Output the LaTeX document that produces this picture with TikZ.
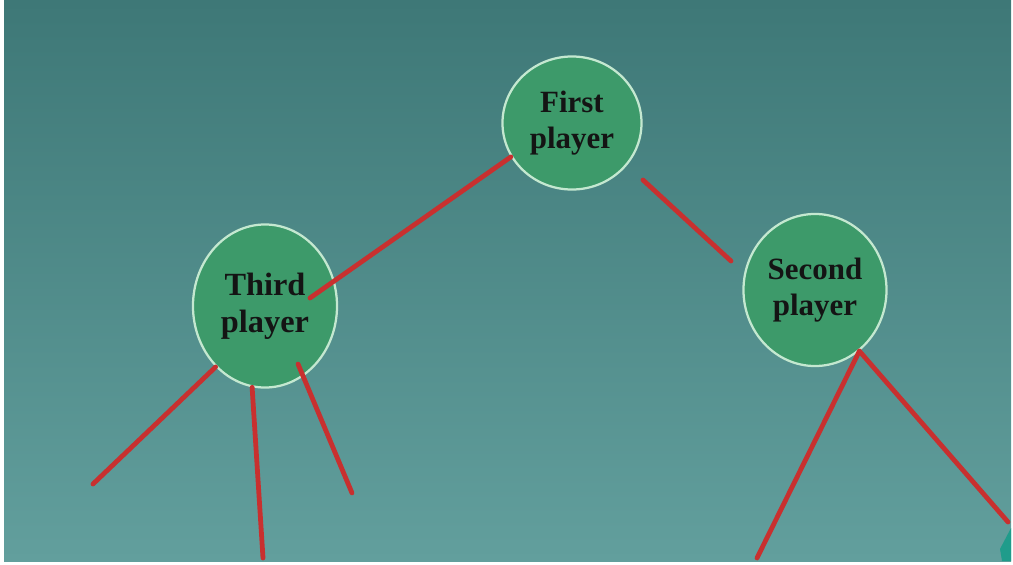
\documentclass[tikz,border=0pt]{standalone}
\usepackage{fontspec}
\setmainfont{Liberation Serif}
\usetikzlibrary{shapes.geometric}
\definecolor{bgtop}{HTML}{3E7877}
\definecolor{bgbot}{HTML}{629F9D}
\definecolor{nodecol}{HTML}{3D9A6A}
\definecolor{ringcol}{HTML}{C4E8D0}
\definecolor{edgecol}{HTML}{C8302F}
\definecolor{cornercol}{HTML}{1F9C8B}
\tikzset{
  player/.style={ellipse, draw=ringcol, line width=1.6pt, fill=nodecol,
    inner sep=0pt, align=center, text=black!92,
    font=\bfseries\fontsize{22}{26}\selectfont},
  edge/.style={draw=edgecol, line width=3.4pt, line cap=round}
}
\begin{document}
\begin{tikzpicture}[x=0.025cm,y=-0.025cm]
\useasboundingbox (0,0) rectangle (1013,565);
\shade[top color=bgtop, bottom color=bgbot] (4,1) rectangle (1011,561);
\fill[cornercol] (1000,549) -- (1011,528) -- (1011,561) -- (1002,561) -- cycle;
% players
\node[player, minimum width=3.475cm, minimum height=3.325cm] (first) at (572,123) {First\\player};
\node[player, minimum width=3.6cm, minimum height=4.075cm,
  font=\bfseries\fontsize{23}{26}\selectfont] (third) at (265,306) {Third\\player};
\node[player, minimum width=3.575cm, minimum height=3.8cm] (second) at (815,290) {Second\\player};
% free ends
\coordinate (tin) at (310,298);
\coordinate (fa) at (643,180);
\coordinate (sb) at (731,261);
\coordinate (ta) at (298,364);
\coordinate (tc1) at (93,484);
\coordinate (tc2) at (263,558);
\coordinate (tc3) at (352,493);
\coordinate (sc1) at (757,558);
\coordinate (sc2) at (1008,522);
% branches
\draw[edge] (first.209) -- (tin);
\draw[edge] (fa) -- (sb);
\draw[edge] (third.-129) -- (tc1);
\draw[edge] (third.-99) -- (tc2);
\draw[edge] (ta) -- (tc3);
\foreach \c in {sc1, sc2}
  \draw[edge] (second.-54) -- (\c);
\end{tikzpicture}
\end{document}
